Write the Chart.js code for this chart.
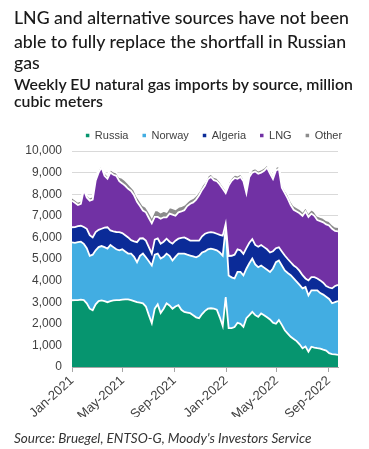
<!DOCTYPE html>
<html><head><meta charset="utf-8">
<script src="https://cdn.jsdelivr.net/npm/chart.js@4.4.0/dist/chart.umd.min.js"></script>
<style>
html,body{margin:0;padding:0;background:#fff;}
#wrap{position:relative;width:369px;height:449px;overflow:hidden;background:#fff;}
.t{position:absolute;left:14px;white-space:nowrap;font-family:Lato,'Noto Sans',sans-serif;color:#1a1a1a;}
.title{font-size:17.7px;font-weight:500;line-height:21px;}
.sub{font-size:15.8px;font-weight:600;line-height:19px;}
.src{font-size:13.5px;font-style:italic;line-height:16px;color:#333;}
canvas{position:absolute;left:0;top:0;}
</style></head>
<body><div id="wrap">
<canvas id="c" width="369" height="449" style="width:369px;height:449px"></canvas>
<div class="t title" style="top:6.5px">LNG and alternative sources have not been</div>
<div class="t title" style="top:31px">able to fully replace the shortfall in Russian</div>
<div class="t title" style="top:52px">gas</div>
<div class="t sub" style="top:74px">Weekly EU natural gas imports by source, million</div>
<div class="t sub" style="top:91px">cubic meters</div>
<div class="t src" style="top:430px">Source: Bruegel, ENTSO-G, Moody's Investors Service</div>
</div>
<script>
const weeks = ['2021-01-01','2021-01-08','2021-01-15','2021-01-22','2021-01-29',
'2021-02-05','2021-02-12','2021-02-19','2021-02-26',
'2021-03-05','2021-03-12','2021-03-19','2021-03-26',
'2021-04-02','2021-04-09','2021-04-16','2021-04-23','2021-04-30',
'2021-05-07','2021-05-14','2021-05-21','2021-05-28',
'2021-06-04','2021-06-11','2021-06-18','2021-06-25',
'2021-07-02','2021-07-09','2021-07-16','2021-07-23','2021-07-30',
'2021-08-06','2021-08-13','2021-08-20','2021-08-27',
'2021-09-03','2021-09-10','2021-09-17','2021-09-24',
'2021-10-01','2021-10-08','2021-10-15','2021-10-22','2021-10-29',
'2021-11-05','2021-11-12','2021-11-19','2021-11-26',
'2021-12-03','2021-12-10','2021-12-17','2021-12-24','2021-12-31',
'2022-01-07','2022-01-14','2022-01-21','2022-01-28',
'2022-02-04','2022-02-11','2022-02-18','2022-02-25',
'2022-03-04','2022-03-11','2022-03-18','2022-03-25',
'2022-04-01','2022-04-08','2022-04-15','2022-04-22','2022-04-29',
'2022-05-06','2022-05-13','2022-05-20','2022-05-27',
'2022-06-03','2022-06-10','2022-06-17','2022-06-24',
'2022-07-01','2022-07-08','2022-07-15','2022-07-22','2022-07-29',
'2022-08-05','2022-08-12','2022-08-19','2022-08-26',
'2022-09-02','2022-09-09','2022-09-16','2022-09-23'];

const russia = [3090,3100,3100,3120,3100,2950,2700,2630,2900,3050,
 3080,3050,3000,3050,3080,3100,3100,3120,3130,3130,
 3100,3050,3000,2980,2950,2800,2400,2030,2700,2900,
 2500,2700,2950,2850,2700,2800,2860,2650,2550,2520,
 2490,2400,2300,2260,2450,2600,2700,2720,2700,2650,
 2300,1900,3240,1800,1800,1850,2050,2000,1860,2260,
 2400,2550,2400,2320,2480,2400,2300,2200,2050,2000,
 2170,1950,1700,1550,1400,1300,1200,1050,870,950,
 710,940,900,870,850,800,760,640,600,580,
 560];

const norway = [2680,2650,2680,2680,2600,2550,2450,2570,2500,2500,
 2520,2500,2480,2600,2470,2350,2300,2330,2220,2120,
 2150,2050,1850,2170,2300,2280,2500,2670,2500,2350,
 2520,2400,2300,2300,2230,2300,2390,2600,2700,2680,
 2670,2720,2780,2890,2850,2750,2750,2760,2750,2750,
 3000,3250,3210,2440,2350,2250,2350,2400,2380,2290,
 2400,2470,2350,2300,2220,2200,2200,2200,2510,2850,
 2760,2750,2770,2800,2850,2800,2750,2750,2770,2750,
 2610,2610,2650,2680,2570,2550,2490,2510,2350,2420,
 2490];

const algeria = [700,730,740,740,780,900,950,800,850,800,
 800,900,990,670,730,800,840,750,750,750,
 620,720,930,800,710,770,650,550,700,700,
 690,700,690,650,780,750,690,730,750,730,
 690,730,770,700,750,820,770,760,770,770,
 820,930,180,900,1000,1100,1050,1000,1000,950,
 950,900,900,950,950,950,950,900,800,650,
 610,650,690,650,600,600,650,650,610,400,
 690,610,610,550,590,550,500,530,690,750,
 750];

const lng = [1230,1120,980,1010,1720,1450,1600,1750,2370,2650,
 2850,2400,2250,2680,2620,2600,2360,2300,2290,2250,
 2280,2130,1870,1500,1280,1310,1350,1400,1050,1000,
 1150,1130,990,1300,1340,1150,1220,1220,1260,1520,
 1710,1770,1900,2100,2150,2230,2480,2560,2430,2430,
 2330,2170,1420,3260,3470,3550,3260,3400,3360,2550,
 3050,3080,3400,3380,3350,3530,3780,3650,3340,3600,
 3630,2950,2890,2800,2650,2580,2600,2670,2750,3100,
 2940,2940,2840,2700,2740,2800,2850,2870,2760,2550,
 2480];

const other = [150,150,150,150,150,120,150,150,150,150,
 120,150,150,150,150,150,200,250,250,250,
 200,250,250,250,250,250,300,300,300,300,
 300,300,250,300,300,300,250,250,250,200,
 200,200,200,200,200,180,150,150,150,150,
 150,150,150,150,150,150,150,150,150,150,
 150,150,150,150,150,150,150,150,150,150,
 150,150,150,200,200,200,200,200,200,200,
 200,200,200,200,200,200,200,200,200,200,
 200];

const seriesNames = ['Russia','Norway','Algeria','LNG','Other'];
const seriesColors = ['#06956F','#42ADE2','#0B2B98','#7131A4','#8C8C8C'];
const tickDates = ['2021-01-01','2021-05-01','2021-09-01','2022-01-01','2022-05-01','2022-09-01'];
const tickLabels = ['Jan-2021','May-2021','Sep-2021','Jan-2022','May-2022','Sep-2022'];

const DAY = 86400000;
const origin = Date.parse(tickDates[0]);
const dayOf = d => Math.round((Date.parse(d) - origin) / DAY);
const xs = weeks.map(dayOf);
const tickDays = tickDates.map(dayOf);

const series = [russia, norway, algeria, lng, other];
const datasets = series.map((vals, k) => ({
  label: seriesNames[k],
  data: vals.map((v, i) => ({x: xs[i], y: v})),
  backgroundColor: seriesColors[k],
  borderColor: '#ffffff',
  borderWidth: 1.8,
  pointRadius: 0,
  pointHoverRadius: 0,
  tension: 0,
  fill: k === 0 ? 'origin' : '-1'
}));

const legendShift = {
  id: 'legendShift',
  afterLayout(chart) {
    const l = chart.legend;
    if (!l) return;
    const target = 214;
    const d = target - (l.left + l.right) / 2;
    l.left += d; l.right += d;
  }
};

const axisFont = {family: "'Liberation Sans', Arial, sans-serif", size: 12};

new Chart(document.getElementById('c'), {
  type: 'line',
  data: {datasets},
  plugins: [legendShift],
  options: {
    responsive: false,
    animation: false,
    layout: {padding: {top: 116, left: 0, right: 31, bottom: 32}},
    plugins: {
      legend: {
        display: true,
        position: 'top',
        labels: {
          usePointStyle: true,
          boxWidth: 3.5,
          boxHeight: 3.5,
          padding: 14,
          color: '#404040',
          font: {family: "'Liberation Sans', Arial, sans-serif", size: 11},
          generateLabels: chart => chart.data.datasets.map((ds, i) => ({
            text: ds.label,
            fillStyle: ds.backgroundColor,
            strokeStyle: ds.backgroundColor,
            lineWidth: 0,
            pointStyle: 'rect',
            hidden: false,
            datasetIndex: i,
            fontColor: '#404040'
          }))
        }
      },
      tooltip: {enabled: false},
      title: {display: false}
    },
    scales: {
      x: {
        type: 'linear',
        min: 0,
        max: xs[xs.length - 1],
        afterBuildTicks: s => { s.ticks = tickDays.map(v => ({value: v})); },
        afterFit: s => { s.height = 50; },
        ticks: {
          autoSkip: false,
          minRotation: 42,
          maxRotation: 42,
          padding: 1,
          color: '#404040',
          font: {family: "'Liberation Sans', Arial, sans-serif", size: 13},
          callback: (v, i) => tickLabels[i]
        },
        grid: {drawOnChartArea: false, drawTicks: true, tickLength: 5, color: '#a6a6a6'},
        border: {display: true, color: '#a6a6a6'}
      },
      y: {
        stacked: true,
        min: 0,
        max: 10000,
        afterFit: s => { s.width = 72; },
        ticks: {
          stepSize: 1000,
          padding: 10,
          color: '#404040',
          font: axisFont,
          callback: v => v.toLocaleString('en-US')
        },
        grid: {color: '#d9d9d9', drawTicks: false},
        border: {display: false}
      }
    }
  }
});
</script>
</body></html>
